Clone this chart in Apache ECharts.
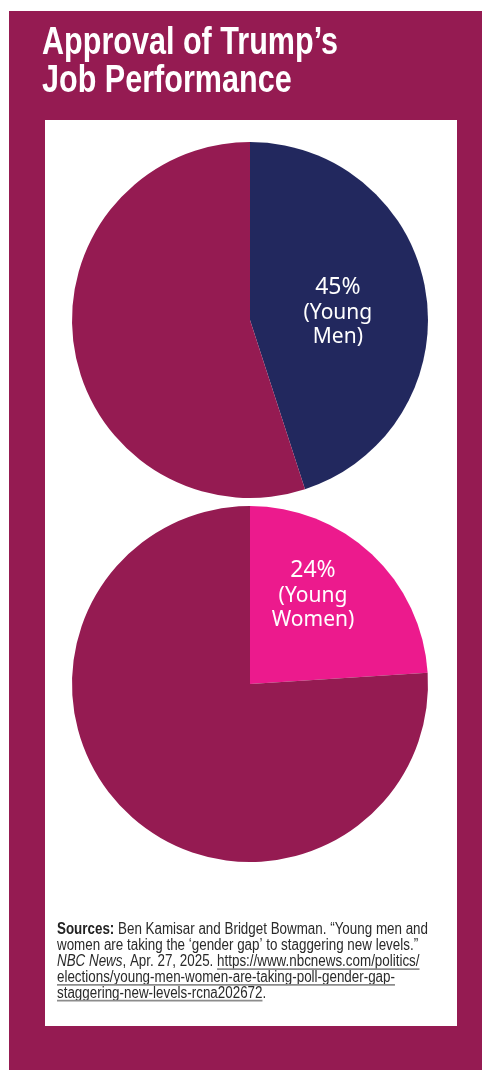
<!DOCTYPE html>
<html>
<head>
<meta charset="utf-8">
<script src="https://cdn.jsdelivr.net/npm/echarts@6/dist/echarts.min.js"></script>
<style>
html,body{margin:0;padding:0;background:#fff;}
#chart{width:482px;height:1070px;}
</style>
</head>
<body>
<div id="chart"></div>
<script>
// ---- data ----
const titleLines = ['Approval of Trump’s', 'Job Performance'];
const groups = ['Young Men', 'Young Women'];
const approvalPct = [45, 24];
const otherPct = [55, 76];
const groupLabelLines = [['(Young', 'Men)'], ['(Young', 'Women)']];
const sourceLines = [
  [{t: 'Sources:', s: 'b'}, {t: ' Ben Kamisar and Bridget Bowman. “Young men and', s: 'n'}],
  [{t: 'women are taking the ‘gender gap’ to staggering new levels.”', s: 'n'}],
  [{t: 'NBC News', s: 'i'}, {t: ', Apr. 27, 2025. ', s: 'n'}, {t: 'https://www.nbcnews.com/politics/', s: 'u'}],
  [{t: 'elections/young-men-women-are-taking-poll-gender-gap-', s: 'u'}],
  [{t: 'staggering-new-levels-rcna202672', s: 'u'}, {t: '.', s: 'n'}]
];

// ---- style ----
const MAGENTA = '#951B52', NAVY = '#22285E', PINK = '#EC1A8D';
const srcFamily = "'Liberation Sans', sans-serif";
const titleFamily = "'Liberation Sans', sans-serif";
const srcSize = 16;
const srcColor = '#2a2a2a';

const chart = echarts.init(document.getElementById('chart'), null, {renderer: 'canvas'});

const ctx = document.createElement('canvas').getContext('2d');
function measure(text, style) {
  const w = style === 'b' ? 'bold ' : '';
  const it = style === 'i' ? 'italic ' : '';
  ctx.font = it + w + srcSize + 'px ' + srcFamily;
  return ctx.measureText(text).width;
}
// horizontal condensing factors (reference fonts are condensed)
ctx.font = 'bold 39px ' + titleFamily;
const titleScale = 296 / ctx.measureText(titleLines[0]).width;
const line1W = sourceLines[0].reduce((a, sg) => a + measure(sg.t, sg.s), 0);
const srcScale = 371 / line1W;

const srcX = 57, srcTop = 922, srcLH = 15.8;
const graphics = [
  {type: 'rect', shape: {x: 9, y: 11, width: 473, height: 1059}, style: {fill: MAGENTA}, z: -10, silent: true},
  {type: 'rect', shape: {x: 45, y: 120, width: 412, height: 906}, style: {fill: '#ffffff'}, z: -9, silent: true},
  {
    type: 'text', x: 42, y: 24, scaleX: titleScale, silent: true,
    style: {
      text: titleLines.join('\n'), fill: '#ffffff', fontFamily: titleFamily,
      fontWeight: 'bold', fontSize: 39, lineHeight: 38, verticalAlign: 'top'
    }
  }
];
sourceLines.forEach((segs, li) => {
  const y = srcTop + li * srcLH;
  const rich = segs.map(sg => '{' + sg.s + '|' + sg.t + '}').join('');
  graphics.push({
    type: 'text', x: srcX, y: y, scaleX: srcScale, silent: true,
    style: {
      text: rich, fontFamily: srcFamily, fontSize: srcSize, fill: srcColor,
      verticalAlign: 'top',
      rich: {
        n: {fontFamily: srcFamily, fontSize: srcSize, fill: srcColor},
        u: {fontFamily: srcFamily, fontSize: srcSize, fill: srcColor},
        b: {fontFamily: srcFamily, fontSize: srcSize, fontWeight: 'bold', fill: '#222'},
        i: {fontFamily: srcFamily, fontSize: srcSize, fontStyle: 'italic', fill: srcColor}
      }
    }
  });
  let x = srcX;
  segs.forEach(sg => {
    const w = measure(sg.t, sg.s) * srcScale;
    if (sg.s === 'u') {
      graphics.push({type: 'rect', silent: true, shape: {x: x, y: y + 14.6, width: w, height: 1.8}, style: {fill: '#8c8c8c'}});
    }
    x += w;
  });
});

function pieSeries(i, center) {
  return {
    type: 'pie',
    name: groups[i],
    center: center,
    radius: 178,
    startAngle: 90,
    clockwise: true,
    silent: true,
    animation: false,
    emphasis: {disabled: true},
    labelLine: {show: false},
    itemStyle: {borderWidth: 0},
    data: [
      {
        value: approvalPct[i], name: groups[i],
        itemStyle: {color: i === 0 ? NAVY : PINK},
        label: {
          show: true, position: 'inside',
          offset: i === 0 ? [-3, 6] : [0, -22],
          formatter: () => '{p|' + approvalPct[i] + '%}\n{t|' + groupLabelLines[i].join('}\n{t|') + '}',
          rich: {
            p: {fontFamily: "'Noto Sans', sans-serif", fontSize: 23, color: '#fff', lineHeight: 27, align: 'center'},
            t: {fontFamily: "'Noto Sans', sans-serif", fontSize: 21, color: '#fff', lineHeight: 24, align: 'center'}
          }
        }
      },
      {value: otherPct[i], name: 'Other', itemStyle: {color: MAGENTA}, label: {show: false}}
    ]
  };
}

chart.setOption({
  animation: false,
  graphic: graphics,
  series: [pieSeries(0, [250, 320]), pieSeries(1, [250, 684])]
});
</script>
</body>
</html>
